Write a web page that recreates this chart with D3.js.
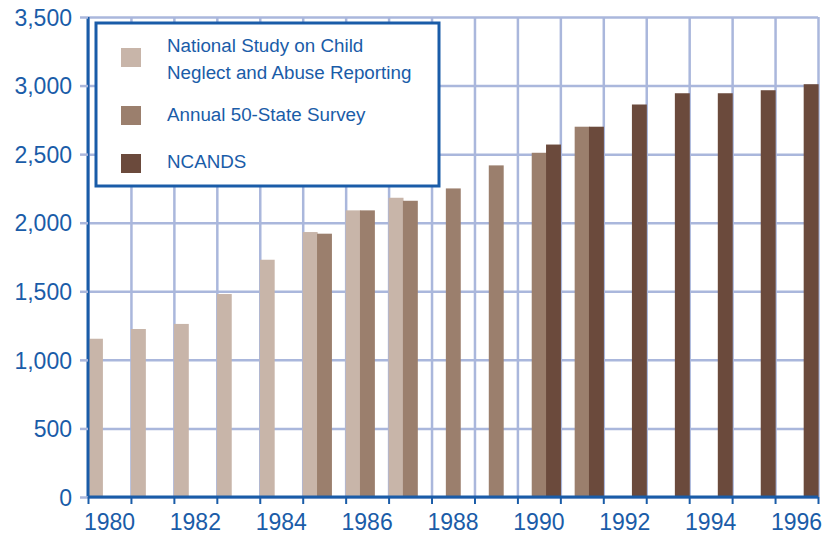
<!DOCTYPE html>
<html>
<head>
<meta charset="utf-8">
<script src="https://cdn.jsdelivr.net/npm/d3@7"></script>
<style>
  body { margin: 0; background: #fff; }
  text { font-family: "Liberation Sans", Arial, sans-serif; fill: #1a5ca8; }
</style>
</head>
<body>
<svg id="chart"></svg>
<script>
// Reports of child maltreatment, in thousands
const years = d3.range(1980, 1997);
const seriesNames = [
    "National Study on Child Neglect and Abuse Reporting",
    "Annual 50-State Survey",
    "NCANDS"
];
const seriesColors = ["#c8b5a9", "#9b7f6d", "#6b4a3c"];

const nationalStudy = [
    { year: 1980, value: 1154 }, { year: 1981, value: 1225 }, { year: 1982, value: 1262 },
    { year: 1983, value: 1480 }, { year: 1984, value: 1730 }, { year: 1985, value: 1932 },
    { year: 1986, value: 2090 }, { year: 1987, value: 2182 }
];
const stateSurvey = [
    { year: 1985, value: 1920 }, { year: 1986, value: 2090 }, { year: 1987, value: 2160 },
    { year: 1988, value: 2250 }, { year: 1989, value: 2418 }, { year: 1990, value: 2510 },
    { year: 1991, value: 2700 }
];
const ncands = [
    { year: 1990, value: 2570 }, { year: 1991, value: 2700 }, { year: 1992, value: 2862 },
    { year: 1993, value: 2944 }, { year: 1994, value: 2944 }, { year: 1995, value: 2966 },
    { year: 1996, value: 3010 }
];
const yTicks = d3.range(0, 3501, 500);
const xLabelYears = d3.range(1980, 1997, 2);

const width = 830;
const height = 535;
const margin = { top: 17, right: 12, bottom: 38, left: 88 };
const plotW = width - margin.left - margin.right;
const plotH = height - margin.top - margin.bottom;

const svg = d3.select("#chart")
    .attr("width", width)
    .attr("height", height);

const g = svg.append("g")
    .attr("transform", `translate(${margin.left}, ${margin.top})`);

const x = d3.scaleBand()
    .domain(years)
    .range([0, plotW])
    .padding(0);

const xEdge = d3.scaleLinear()
    .domain([1980, 1997])
    .range([0, plotW]);

const xSub = d3.scaleBand()
    .domain([0, 1, 2])
    .range([0, x.bandwidth()])
    .padding(0);

const y = d3.scaleLinear()
    .domain([0, 3500])
    .range([plotH, 0]);

const gridColor = "#aab7dc";
const axisColor = "#1a5ca8";

// Gridlines
g.append("g")
    .call(d3.axisLeft(y).tickValues(yTicks).tickSize(-plotW).tickFormat(""))
    .call(a => a.select(".domain").remove())
    .selectAll("line")
    .attr("stroke", gridColor)
    .attr("stroke-width", 2.5);

g.append("g")
    .call(d3.axisBottom(xEdge).tickValues(d3.range(1980, 1998)).tickSize(plotH).tickFormat(""))
    .call(a => a.select(".domain").remove())
    .selectAll("line")
    .attr("stroke", gridColor)
    .attr("stroke-width", 2.5);

// Bars
const allSeries = [nationalStudy, stateSurvey, ncands];
allSeries.forEach((data, i) => {
    g.append("g")
        .selectAll("rect")
        .data(data)
        .enter()
        .append("rect")
        .attr("x", d => x(d.year) + xSub(i))
        .attr("y", d => y(d.value))
        .attr("width", xSub.bandwidth() + 0.6)
        .attr("height", d => plotH - y(d.value))
        .attr("fill", seriesColors[i]);
});

// Y axis
const yAxis = g.append("g")
    .call(d3.axisLeft(y).tickValues(yTicks).tickSize(8).tickPadding(8).tickFormat(d3.format(",")));
yAxis.select(".domain").attr("stroke", axisColor).attr("stroke-width", 3).attr("d", `M0,0V${plotH}`);
yAxis.selectAll("line").attr("stroke", gridColor).attr("stroke-width", 2.5);
yAxis.selectAll("text")
    .style("font-size", "23px")
    .attr("fill", axisColor)
    .attr("dy", "0.36em");

// X axis: ticks at band edges, labels at band centers
const xAxis = g.append("g")
    .attr("transform", `translate(0, ${plotH})`)
    .call(d3.axisBottom(xEdge).tickValues(d3.range(1980, 1998)).tickSize(7).tickFormat(""));
xAxis.select(".domain").attr("stroke", axisColor).attr("stroke-width", 3).attr("d", `M0,0H${plotW}`);
xAxis.selectAll("line").attr("stroke", axisColor).attr("stroke-width", 2);

g.append("g")
    .attr("transform", `translate(0, ${plotH})`)
    .call(d3.axisBottom(x).tickValues(xLabelYears).tickSize(0).tickPadding(17))
    .call(a => a.select(".domain").remove())
    .selectAll("text")
    .style("font-size", "23px")
    .attr("fill", axisColor);

// Legend
const legend = svg.append("g").attr("transform", "translate(96, 23)");
legend.append("rect")
    .attr("width", 343)
    .attr("height", 163)
    .attr("fill", "#fff")
    .attr("stroke", axisColor)
    .attr("stroke-width", 3);

const legendRows = [
    { lines: ["National Study on Child", "Neglect and Abuse Reporting"], swatchY: 25, textY: 29 },
    { lines: ["Annual 50-State Survey"], swatchY: 83, textY: 98 },
    { lines: ["NCANDS"], swatchY: 131, textY: 145 }
];
legendRows.forEach((row, i) => {
    legend.append("rect")
        .attr("x", 25)
        .attr("y", row.swatchY)
        .attr("width", 20)
        .attr("height", 19)
        .attr("fill", seriesColors[i]);
    const t = legend.append("text")
        .attr("x", 71)
        .attr("y", row.textY)
        .style("font-size", "18.8px");
    row.lines.forEach((line, j) => {
        t.append("tspan")
            .attr("x", 71)
            .attr("dy", j === 0 ? 0 : 27)
            .text(line);
    });
});
</script>
</body>
</html>
